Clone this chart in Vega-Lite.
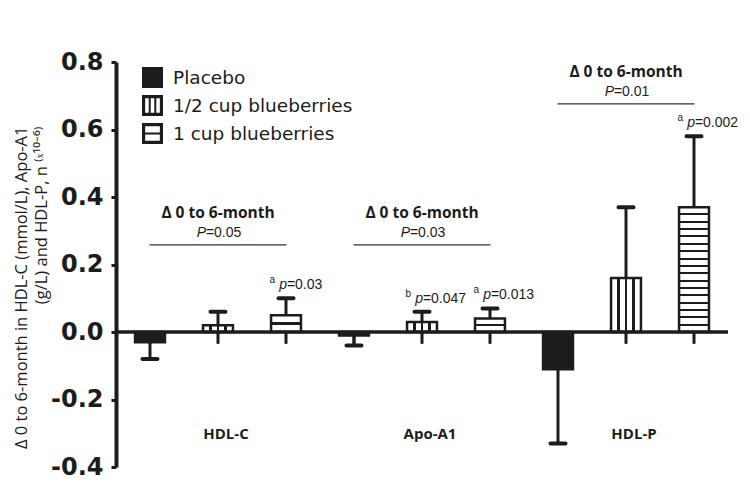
{
  "$schema": "https://vega.github.io/schema/vega-lite/v6.json",
  "width": 612,
  "height": 405,
  "autosize": {"type": "none"},
  "padding": {"left": 116, "top": 62, "right": 22, "bottom": 23},
  "background": "white",
  "config": {"view": {"stroke": null}, "font": "Liberation Sans"},
  "datasets": {
    "bars": [
      {"group": "HDL-C", "treatment": "Placebo", "value": -0.03, "whisker": -0.08},
      {"group": "HDL-C", "treatment": "1/2 cup blueberries", "value": 0.02, "whisker": 0.06},
      {"group": "HDL-C", "treatment": "1 cup blueberries", "value": 0.05, "whisker": 0.10, "sig": "a", "p": "0.03"},
      {"group": "Apo-A1", "treatment": "Placebo", "value": -0.01, "whisker": -0.04},
      {"group": "Apo-A1", "treatment": "1/2 cup blueberries", "value": 0.03, "whisker": 0.06, "sig": "b", "p": "0.047"},
      {"group": "Apo-A1", "treatment": "1 cup blueberries", "value": 0.04, "whisker": 0.07, "sig": "a", "p": "0.013"},
      {"group": "HDL-P", "treatment": "Placebo", "value": -0.11, "whisker": -0.33},
      {"group": "HDL-P", "treatment": "1/2 cup blueberries", "value": 0.16, "whisker": 0.37},
      {"group": "HDL-P", "treatment": "1 cup blueberries", "value": 0.37, "whisker": 0.58, "sig": "a", "p": "0.002"}
    ],
    "brackets": [
      {"group": "HDL-C", "level": 0.258, "P": "0.05"},
      {"group": "Apo-A1", "level": 0.258, "P": "0.03"},
      {"group": "HDL-P", "level": 0.676, "P": "0.01"}
    ]
  },
  "layer": [
    {
      "data": {"name": "bars"},
      "mark": {"type": "rule", "strokeWidth": 3, "color": "#1c1c1c"},
      "encoding": {
        "x": {"field": "group", "type": "nominal", "scale": {"domain": ["HDL-C", "Apo-A1", "HDL-P"], "paddingInner": 0, "paddingOuter": 0},
          "axis": {"orient": "bottom", "offset": -41, "domain": false, "ticks": false, "title": null, "labelAngle": 0, "labelPadding": 0, "labelBaseline": "top", "labelFontSize": 15, "labelFontWeight": "bold", "labelColor": "#1c1c1c", "labelFont": "Open Sans", "labelOffset": 8}},
        "xOffset": {"field": "treatment", "type": "nominal", "scale": {"domain": ["Placebo", "1/2 cup blueberries", "1 cup blueberries"], "paddingInner": 0.56, "paddingOuter": 0.28}},
        "y": {"field": "value", "type": "quantitative", "scale": {"domain": [-0.4, 0.8], "nice": false, "zero": false},
          "axis": {"values": [-0.4, -0.2, 0, 0.2, 0.4, 0.6, 0.8], "format": ".1f", "labelExpr": "replace(datum.label, '−', '-')", "grid": false, "labelFont": "DejaVu Sans", "labelFontWeight": "bold", "labelFontSize": 24, "labelColor": "#1c1c1c", "labelPadding": 8, "domainWidth": 4, "domainColor": "#1c1c1c", "tickColor": "#1c1c1c", "tickWidth": 3, "tickSize": 5,
            "title": ["Δ 0 to 6-month in HDL-C (mmol/L), Apo-A1", "(g/L) and HDL-P, n ⁽ˣ¹⁰⁻⁶⁾"], "titleFont": "Open Sans", "titleFontSize": 16.5, "titleFontWeight": "normal", "titleColor": "#1c1c1c", "titleAngle": -90, "titleX": -103, "titleY": 64, "titleAlign": "right", "titleBaseline": "top", "titleLineHeight": 20}},
        "y2": {"field": "whisker"}
      }
    },
    {
      "data": {"name": "bars"},
      "mark": {"type": "rule", "strokeWidth": 3, "color": "#1c1c1c"},
      "encoding": {
        "x": {"field": "group", "type": "nominal"},
        "xOffset": {"field": "treatment", "type": "nominal"},
        "y": {"datum": 0, "type": "quantitative"},
        "y2": {"datum": -0.035}
      }
    },
    {
      "data": {"name": "bars"},
      "mark": {"type": "bar", "stroke": "#1c1c1c", "strokeWidth": 2.5, "opacity": 1},
      "encoding": {
        "x": {"field": "group", "type": "nominal"},
        "xOffset": {"field": "treatment", "type": "nominal"},
        "y": {"field": "value", "type": "quantitative"},
        "y2": {"datum": 0},
        "fill": {
          "condition": [
            {"test": "datum.group === 'HDL-P' && datum.treatment === '1 cup blueberries'", "value": {"gradient": "linear", "x1": 0, "y1": 0, "x2": 0, "y2": 1, "stops": [
              {"offset": 0, "color": "white"},
              {"offset": 0.051, "color": "white"}, {"offset": 0.051, "color": "#1c1c1c"}, {"offset": 0.067, "color": "#1c1c1c"}, {"offset": 0.067, "color": "white"},
              {"offset": 0.110, "color": "white"}, {"offset": 0.110, "color": "#1c1c1c"}, {"offset": 0.126, "color": "#1c1c1c"}, {"offset": 0.126, "color": "white"},
              {"offset": 0.168, "color": "white"}, {"offset": 0.168, "color": "#1c1c1c"}, {"offset": 0.184, "color": "#1c1c1c"}, {"offset": 0.184, "color": "white"},
              {"offset": 0.227, "color": "white"}, {"offset": 0.227, "color": "#1c1c1c"}, {"offset": 0.243, "color": "#1c1c1c"}, {"offset": 0.243, "color": "white"},
              {"offset": 0.286, "color": "white"}, {"offset": 0.286, "color": "#1c1c1c"}, {"offset": 0.302, "color": "#1c1c1c"}, {"offset": 0.302, "color": "white"},
              {"offset": 0.345, "color": "white"}, {"offset": 0.345, "color": "#1c1c1c"}, {"offset": 0.361, "color": "#1c1c1c"}, {"offset": 0.361, "color": "white"},
              {"offset": 0.404, "color": "white"}, {"offset": 0.404, "color": "#1c1c1c"}, {"offset": 0.420, "color": "#1c1c1c"}, {"offset": 0.420, "color": "white"},
              {"offset": 0.463, "color": "white"}, {"offset": 0.463, "color": "#1c1c1c"}, {"offset": 0.479, "color": "#1c1c1c"}, {"offset": 0.479, "color": "white"},
              {"offset": 0.521, "color": "white"}, {"offset": 0.521, "color": "#1c1c1c"}, {"offset": 0.537, "color": "#1c1c1c"}, {"offset": 0.537, "color": "white"},
              {"offset": 0.580, "color": "white"}, {"offset": 0.580, "color": "#1c1c1c"}, {"offset": 0.596, "color": "#1c1c1c"}, {"offset": 0.596, "color": "white"},
              {"offset": 0.639, "color": "white"}, {"offset": 0.639, "color": "#1c1c1c"}, {"offset": 0.655, "color": "#1c1c1c"}, {"offset": 0.655, "color": "white"},
              {"offset": 0.698, "color": "white"}, {"offset": 0.698, "color": "#1c1c1c"}, {"offset": 0.714, "color": "#1c1c1c"}, {"offset": 0.714, "color": "white"},
              {"offset": 0.757, "color": "white"}, {"offset": 0.757, "color": "#1c1c1c"}, {"offset": 0.773, "color": "#1c1c1c"}, {"offset": 0.773, "color": "white"},
              {"offset": 0.816, "color": "white"}, {"offset": 0.816, "color": "#1c1c1c"}, {"offset": 0.832, "color": "#1c1c1c"}, {"offset": 0.832, "color": "white"},
              {"offset": 0.874, "color": "white"}, {"offset": 0.874, "color": "#1c1c1c"}, {"offset": 0.890, "color": "#1c1c1c"}, {"offset": 0.890, "color": "white"},
              {"offset": 0.933, "color": "white"}, {"offset": 0.933, "color": "#1c1c1c"}, {"offset": 0.949, "color": "#1c1c1c"}, {"offset": 0.949, "color": "white"},
              {"offset": 1, "color": "white"}
            ]}},
            {"test": "datum.treatment === '1 cup blueberries'", "value": {"gradient": "linear", "x1": 0, "y1": 0, "x2": 0, "y2": 1, "stops": [
              {"offset": 0, "color": "white"}, {"offset": 0.42, "color": "white"}, {"offset": 0.42, "color": "#1c1c1c"}, {"offset": 0.58, "color": "#1c1c1c"}, {"offset": 0.58, "color": "white"}, {"offset": 1, "color": "white"}]}},
            {"test": "datum.treatment === '1/2 cup blueberries'", "value": {"gradient": "linear", "x1": 0, "y1": 0, "x2": 1, "y2": 0, "stops": [
              {"offset": 0, "color": "white"}, {"offset": 0.215, "color": "white"}, {"offset": 0.215, "color": "#1c1c1c"}, {"offset": 0.285, "color": "#1c1c1c"}, {"offset": 0.285, "color": "white"},
              {"offset": 0.465, "color": "white"}, {"offset": 0.465, "color": "#1c1c1c"}, {"offset": 0.535, "color": "#1c1c1c"}, {"offset": 0.535, "color": "white"},
              {"offset": 0.715, "color": "white"}, {"offset": 0.715, "color": "#1c1c1c"}, {"offset": 0.785, "color": "#1c1c1c"}, {"offset": 0.785, "color": "white"}, {"offset": 1, "color": "white"}]}}
          ],
          "value": "#1c1c1c"
        }
      }
    },
    {
      "data": {"name": "bars"},
      "mark": {"type": "point", "filled": true, "opacity": 0, "color": "#1c1c1c"},
      "encoding": {
        "x": {"field": "group", "type": "nominal"},
        "xOffset": {"field": "treatment", "type": "nominal"},
        "y": {"field": "value", "type": "quantitative"},
        "shape": {
          "field": "treatment", "type": "nominal",
          "scale": {
            "domain": ["Placebo", "1/2 cup blueberries", "1 cup blueberries"],
            "range": [
              "M-1,-1L1,-1L1,1L-1,1Z",
              "M-1,-1L1,-1L1,1L-1,1Z M-0.7,-0.7L-0.7,0.7L-0.36,0.7L-0.36,-0.7Z M-0.17,-0.7L-0.17,0.7L0.17,0.7L0.17,-0.7Z M0.36,-0.7L0.36,0.7L0.7,0.7L0.7,-0.7Z",
              "M-1,-1L1,-1L1,1L-1,1Z M-0.7,-0.7L-0.7,-0.1L0.7,-0.1L0.7,-0.7Z M-0.7,0.1L-0.7,0.7L0.7,0.7L0.7,0.1Z"
            ]
          },
          "legend": {"orient": "none", "legendX": 26, "legendY": 5, "title": null, "symbolSize": 441, "symbolStrokeWidth": 0, "symbolOpacity": 1, "symbolFillColor": "#1c1c1c", "labelFont": "DejaVu Sans", "labelFontSize": 18.5, "labelColor": "#1c1c1c", "labelOffset": 10, "labelLimit": 400, "rowPadding": 7, "padding": 0}
        }
      }
    },
    {
      "data": {"values": [{}]},
      "mark": {"type": "rule", "strokeWidth": 3.5, "color": "#1c1c1c"},
      "encoding": {"y": {"datum": 0, "type": "quantitative"}}
    },
    {
      "data": {"name": "bars"},
      "mark": {"type": "tick", "size": 19, "thickness": 4, "color": "#1c1c1c", "opacity": 1, "cornerRadius": 2},
      "encoding": {
        "x": {"field": "group", "type": "nominal"},
        "xOffset": {"field": "treatment", "type": "nominal"},
        "y": {"field": "whisker", "type": "quantitative"}
      }
    },
    {
      "data": {"name": "bars"},
      "transform": [{"filter": "datum.p != null"}],
      "mark": {"type": "text", "text": "p", "fontStyle": "italic", "fontSize": 14, "align": "right", "baseline": "alphabetic", "dx": 1, "dy": -9, "color": "#1c1c1c"},
      "encoding": {
        "x": {"field": "group", "type": "nominal"},
        "xOffset": {"field": "treatment", "type": "nominal"},
        "y": {"field": "whisker", "type": "quantitative"}
      }
    },
    {
      "data": {"name": "bars"},
      "transform": [{"filter": "datum.p != null"}],
      "mark": {"type": "text", "text": "=", "fontSize": 14, "align": "left", "baseline": "alphabetic", "dx": 1, "dy": -9, "color": "#1c1c1c"},
      "encoding": {
        "x": {"field": "group", "type": "nominal"},
        "xOffset": {"field": "treatment", "type": "nominal"},
        "y": {"field": "whisker", "type": "quantitative"}
      }
    },
    {
      "data": {"name": "bars"},
      "transform": [{"filter": "datum.p != null"}],
      "mark": {"type": "text", "fontSize": 14, "align": "left", "baseline": "alphabetic", "dx": 9, "dy": -9, "color": "#1c1c1c"},
      "encoding": {
        "x": {"field": "group", "type": "nominal"},
        "xOffset": {"field": "treatment", "type": "nominal"},
        "y": {"field": "whisker", "type": "quantitative"},
        "text": {"field": "p", "type": "nominal"}
      }
    },
    {
      "data": {"name": "bars"},
      "transform": [{"filter": "datum.p != null"}],
      "mark": {"type": "text", "fontSize": 10, "align": "right", "baseline": "alphabetic", "dx": -11, "dy": -15, "color": "#1c1c1c"},
      "encoding": {
        "x": {"field": "group", "type": "nominal"},
        "xOffset": {"field": "treatment", "type": "nominal"},
        "y": {"field": "whisker", "type": "quantitative"},
        "text": {"field": "sig", "type": "nominal"}
      }
    },
    {
      "data": {"name": "brackets"},
      "mark": {"type": "tick", "size": 137, "thickness": 1.3, "color": "#333333", "opacity": 1},
      "encoding": {
        "x": {"field": "group", "type": "nominal"},
        "y": {"field": "level", "type": "quantitative"}
      }
    },
    {
      "data": {"name": "brackets"},
      "mark": {"type": "text", "text": "Δ 0 to 6-month", "font": "Open Sans", "fontSize": 15.5, "fontWeight": "bold", "align": "center", "baseline": "middle", "dy": -32, "color": "#1c1c1c"},
      "encoding": {
        "x": {"field": "group", "type": "nominal"},
        "y": {"field": "level", "type": "quantitative"}
      }
    },
    {
      "data": {"name": "brackets"},
      "mark": {"type": "text", "text": "P", "fontStyle": "italic", "fontSize": 14, "align": "right", "baseline": "middle", "dx": -12, "dy": -12, "color": "#1c1c1c"},
      "encoding": {
        "x": {"field": "group", "type": "nominal"},
        "y": {"field": "level", "type": "quantitative"}
      }
    },
    {
      "data": {"name": "brackets"},
      "mark": {"type": "text", "text": "=", "fontSize": 14, "align": "left", "baseline": "middle", "dx": -12, "dy": -12, "color": "#1c1c1c"},
      "encoding": {
        "x": {"field": "group", "type": "nominal"},
        "y": {"field": "level", "type": "quantitative"}
      }
    },
    {
      "data": {"name": "brackets"},
      "mark": {"type": "text", "fontSize": 14, "align": "left", "baseline": "middle", "dx": -4, "dy": -12, "color": "#1c1c1c"},
      "encoding": {
        "x": {"field": "group", "type": "nominal"},
        "y": {"field": "level", "type": "quantitative"},
        "text": {"field": "P", "type": "nominal"}
      }
    }
  ]
}
